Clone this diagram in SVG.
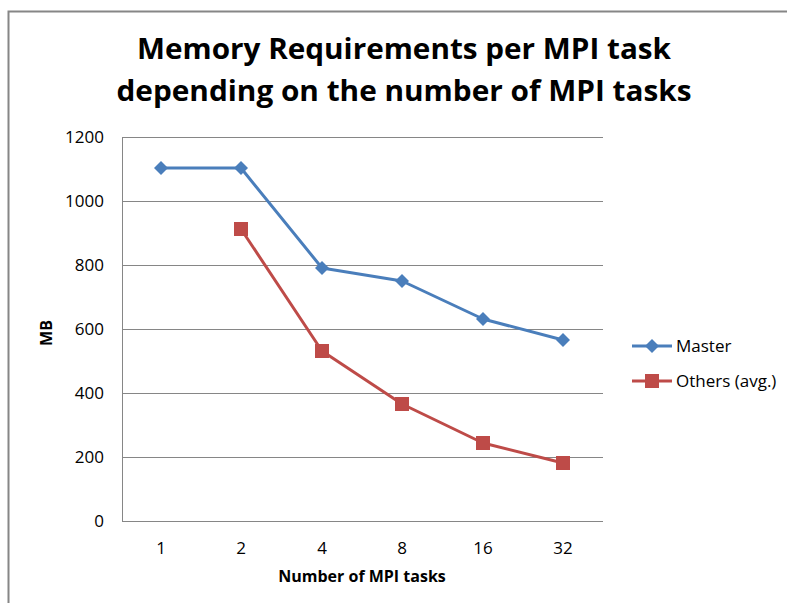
<svg xmlns="http://www.w3.org/2000/svg" width="787" height="603" viewBox="0 0 787 603">
<style>
.grid{stroke:#868686;stroke-width:1;fill:none}
.tick{font-family:"Open Sans","Liberation Sans",sans-serif;font-size:17px;fill:#000}
.title{font-family:"Open Sans","Liberation Sans",sans-serif;font-size:29px;font-weight:bold;fill:#000}
.axt{font-family:"Open Sans","Liberation Sans",sans-serif;font-size:16px;font-weight:bold;fill:#000}
.blue{stroke:#4A7EBB;stroke-width:3;fill:none;stroke-linejoin:round}
.red{stroke:#BE4B48;stroke-width:3;fill:none;stroke-linejoin:round}
.bm{fill:#4A7EBB}
.rm{fill:#BE4B48}
</style>
<defs>
<path id="dia" d="M0,-7 L7,0 L0,7 L-7,0 Z"/>
<rect id="sq" x="-7" y="-7" width="14" height="14"/>
</defs>
<rect x="0" y="0" width="787" height="603" fill="#fff"/>
<path d="M8.5,603 L8.5,11.5 L787,11.5" stroke="#868686" stroke-width="2" fill="none"/>
<g id="title">
<text class="title" x="404" y="59" text-anchor="middle" textLength="534" lengthAdjust="spacingAndGlyphs">Memory Requirements per MPI task</text>
<text class="title" x="404" y="101" text-anchor="middle" textLength="575" lengthAdjust="spacingAndGlyphs">depending on the number of MPI tasks</text>
</g>
<g id="gridlines">
<path class="grid" d="M122,137.5H603M122,201.5H603M122,265.5H603M122,329.5H603M122,393.5H603M122,457.5H603M122,521.5H603M122.5,137V521"/>
</g>
<g id="y-axis">
<text class="tick" x="104" y="143" text-anchor="end">1200</text>
<text class="tick" x="104" y="207" text-anchor="end">1000</text>
<text class="tick" x="104" y="271" text-anchor="end">800</text>
<text class="tick" x="104" y="335" text-anchor="end">600</text>
<text class="tick" x="104" y="399" text-anchor="end">400</text>
<text class="tick" x="104" y="463" text-anchor="end">200</text>
<text class="tick" x="104" y="527" text-anchor="end">0</text>
<text class="axt" transform="translate(52,333) rotate(-90)" text-anchor="middle">MB</text>
</g>
<g id="x-axis">
<text class="tick" x="161" y="554" text-anchor="middle">1</text>
<text class="tick" x="241" y="554" text-anchor="middle">2</text>
<text class="tick" x="322" y="554" text-anchor="middle">4</text>
<text class="tick" x="402" y="554" text-anchor="middle">8</text>
<text class="tick" x="483" y="554" text-anchor="middle">16</text>
<text class="tick" x="563" y="554" text-anchor="middle">32</text>
<text class="axt" x="362" y="582" text-anchor="middle">Number of MPI tasks</text>
</g>
<g id="connectors">
<polyline class="blue" points="161,168 241,168 322,268 402,281 483,319 563,340"/>
<polyline class="red" points="241,229 322,351 402,404 483,443 563,463"/>
</g>
<g id="master-markers" class="bm">
<use href="#dia" x="161" y="168"/><use href="#dia" x="241" y="168"/><use href="#dia" x="322" y="268"/>
<use href="#dia" x="402" y="281"/><use href="#dia" x="483" y="319"/><use href="#dia" x="563" y="340"/>
</g>
<g id="others-markers" class="rm">
<use href="#sq" x="241" y="229"/><use href="#sq" x="322" y="351"/><use href="#sq" x="402" y="404"/>
<use href="#sq" x="483" y="443"/><use href="#sq" x="563" y="463"/>
</g>
<g id="legend">
<line class="blue" x1="632" y1="346" x2="672" y2="346"/>
<use href="#dia" x="652" y="346" class="bm"/>
<text class="tick" x="676" y="352">Master</text>
<line class="red" x1="632" y1="381" x2="672" y2="381"/>
<use href="#sq" x="652" y="381" class="rm"/>
<text class="tick" x="676" y="387">Others (avg.)</text>
</g>
</svg>
